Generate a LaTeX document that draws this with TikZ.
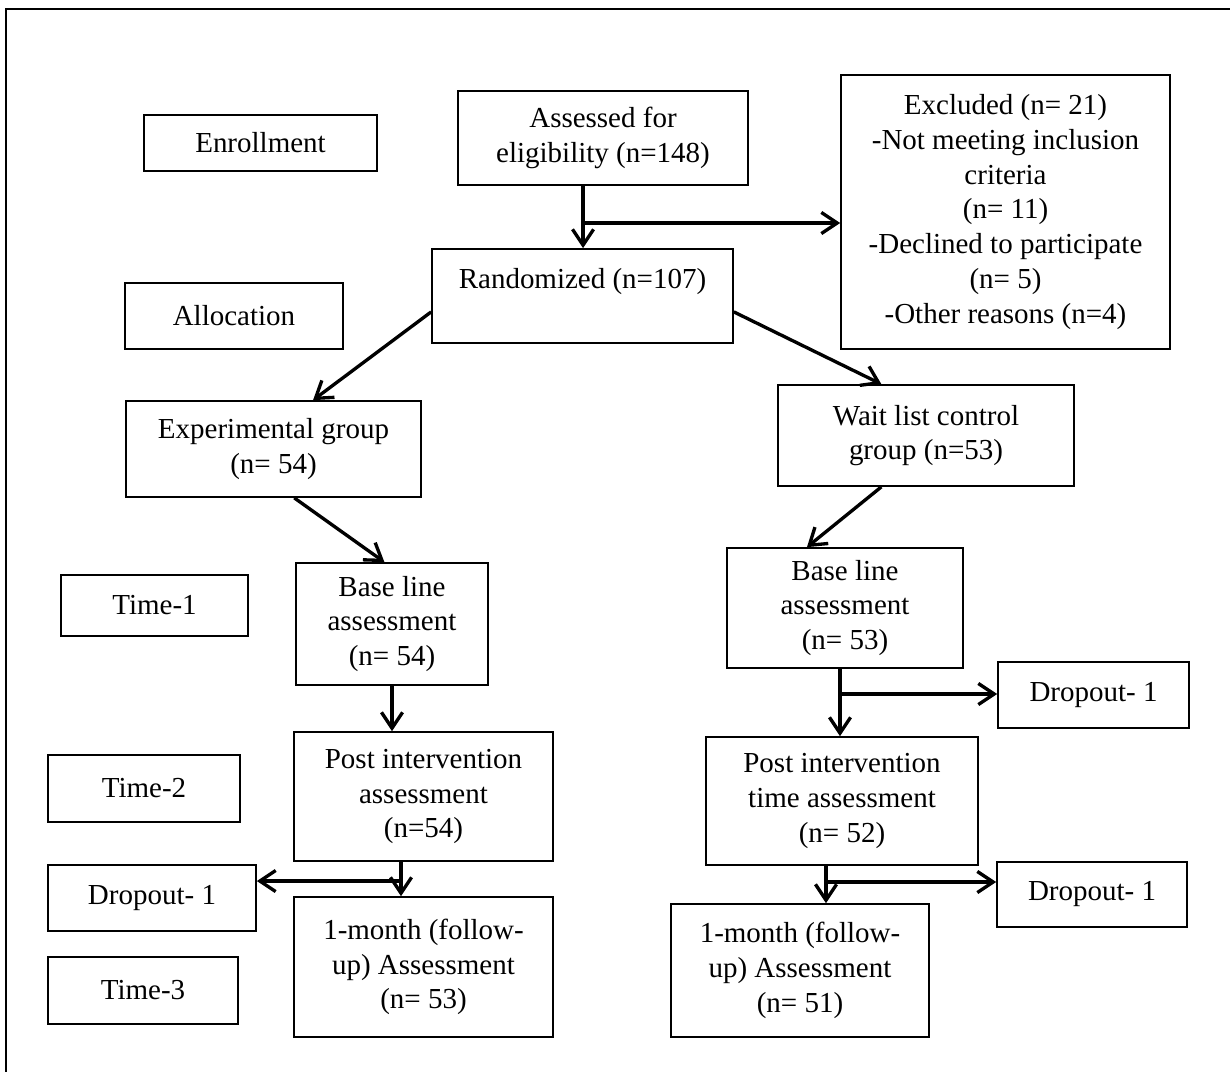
\documentclass[tikz,border=0pt]{standalone}
\usepackage{fontspec}
\setmainfont{Liberation Serif}
\usetikzlibrary{arrows.meta}

\begin{document}
\begin{tikzpicture}[x=0.02cm,y=-0.02cm,
  box/.style={draw,line width=1pt,rectangle,align=center,inner sep=2pt,font=\fontsize{16.5}{19.8}\selectfont},
  arr/.style={line width=1.9pt,-{Straight Barb[length=9pt,width=12pt,line width=1.9pt]}}]
  \useasboundingbox (0,0) rectangle (1230,1072);
  \draw[line width=1pt] (1230,9) -- (6,9) -- (6,1072);
  \node[box,minimum width=4.66cm,minimum height=1.12cm] (enroll) at (260.5,143) {Enrollment};
  \node[box,minimum width=5.8cm,minimum height=1.88cm] (assess) at (603,138) {Assessed for\\eligibility (n=148)};
  \node[box,minimum width=6.58cm,minimum height=5.48cm] (excl) at (1005.5,212) {Excluded (n= 21)\\-Not meeting inclusion\\criteria\\(n= 11)\\-Declined to participate\\(n= 5)\\-Other reasons (n=4)};
  \node[box,minimum width=4.36cm,minimum height=1.32cm] (alloc) at (234,316) {Allocation};
  \node[box,minimum width=6.02cm,minimum height=1.88cm] (rand) at (582.5,296) {Randomized (n=107)\\~};
  \node[box,minimum width=5.9cm,minimum height=1.92cm] (exp) at (273.5,449) {Experimental group\\(n= 54)};
  \node[box,minimum width=5.92cm,minimum height=2.02cm] (wait) at (926,435.5) {Wait list control\\group (n=53)};
  \node[box,minimum width=3.74cm,minimum height=1.22cm] (time1) at (154.5,605.5) {Time-1};
  \node[box,minimum width=3.84cm,minimum height=2.44cm] (base1) at (392,624) {Base line\\assessment\\(n= 54)};
  \node[box,minimum width=4.72cm,minimum height=2.4cm] (base2) at (845,608) {Base line\\assessment\\(n= 53)};
  \node[box,minimum width=3.82cm,minimum height=1.32cm] (drop1) at (1093.5,695) {Dropout- 1};
  \node[box,minimum width=3.84cm,minimum height=1.34cm] (time2) at (144,788.5) {Time-2};
  \node[box,minimum width=5.18cm,minimum height=2.58cm] (post1) at (423.5,796.5) {Post intervention\\assessment\\(n=54)};
  \node[box,minimum width=5.44cm,minimum height=2.56cm] (post2) at (842,801) {Post intervention\\time assessment\\(n= 52)};
  \node[box,minimum width=4.16cm,minimum height=1.32cm] (dropL) at (152,898) {Dropout- 1};
  \node[box,minimum width=3.8cm,minimum height=1.3cm] (drop2) at (1092,894.5) {Dropout- 1};
  \node[box,minimum width=5.18cm,minimum height=2.8cm] (mon1) at (423.5,967) {1-month (follow-\\up) Assessment\\(n= 53)};
  \node[box,minimum width=5.16cm,minimum height=2.66cm] (mon2) at (800,970.5) {1-month (follow-\\up) Assessment\\(n= 51)};
  \node[box,minimum width=3.8cm,minimum height=1.34cm] (time3) at (143,990.5) {Time-3};
  \coordinate (j1) at (583,223);
  \coordinate (j2) at (840,694);
  \coordinate (j3) at (401,881);
  \coordinate (j4) at (826,882);
  \draw[arr] (j1 |- assess.south) -- (j1 |- rand.north);
  \draw[arr] (j1) -- (j1 -| excl.west);
  \draw[arr] (rand.186) -- (exp.51);
  \draw[arr] (rand.354) -- (wait.131);
  \draw[arr] (exp.293) -- (base1.97);
  \draw[arr] (wait.229) -- (base2.122);
  \draw[arr] (base1.south) -- (base1.south |- post1.north);
  \draw[arr] (j2 |- base2.south) -- (j2 |- post2.north);
  \draw[arr] (j2) -- (j2 -| drop1.west);
  \draw[arr] (j3 |- post1.south) -- (j3 |- mon1.north);
  \draw[arr] (j3) -- (j3 -| dropL.east);
  \draw[arr] (j4 |- post2.south) -- (j4 |- mon2.north);
  \draw[arr] (j4) -- (j4 -| drop2.west);
\end{tikzpicture}
\end{document}
